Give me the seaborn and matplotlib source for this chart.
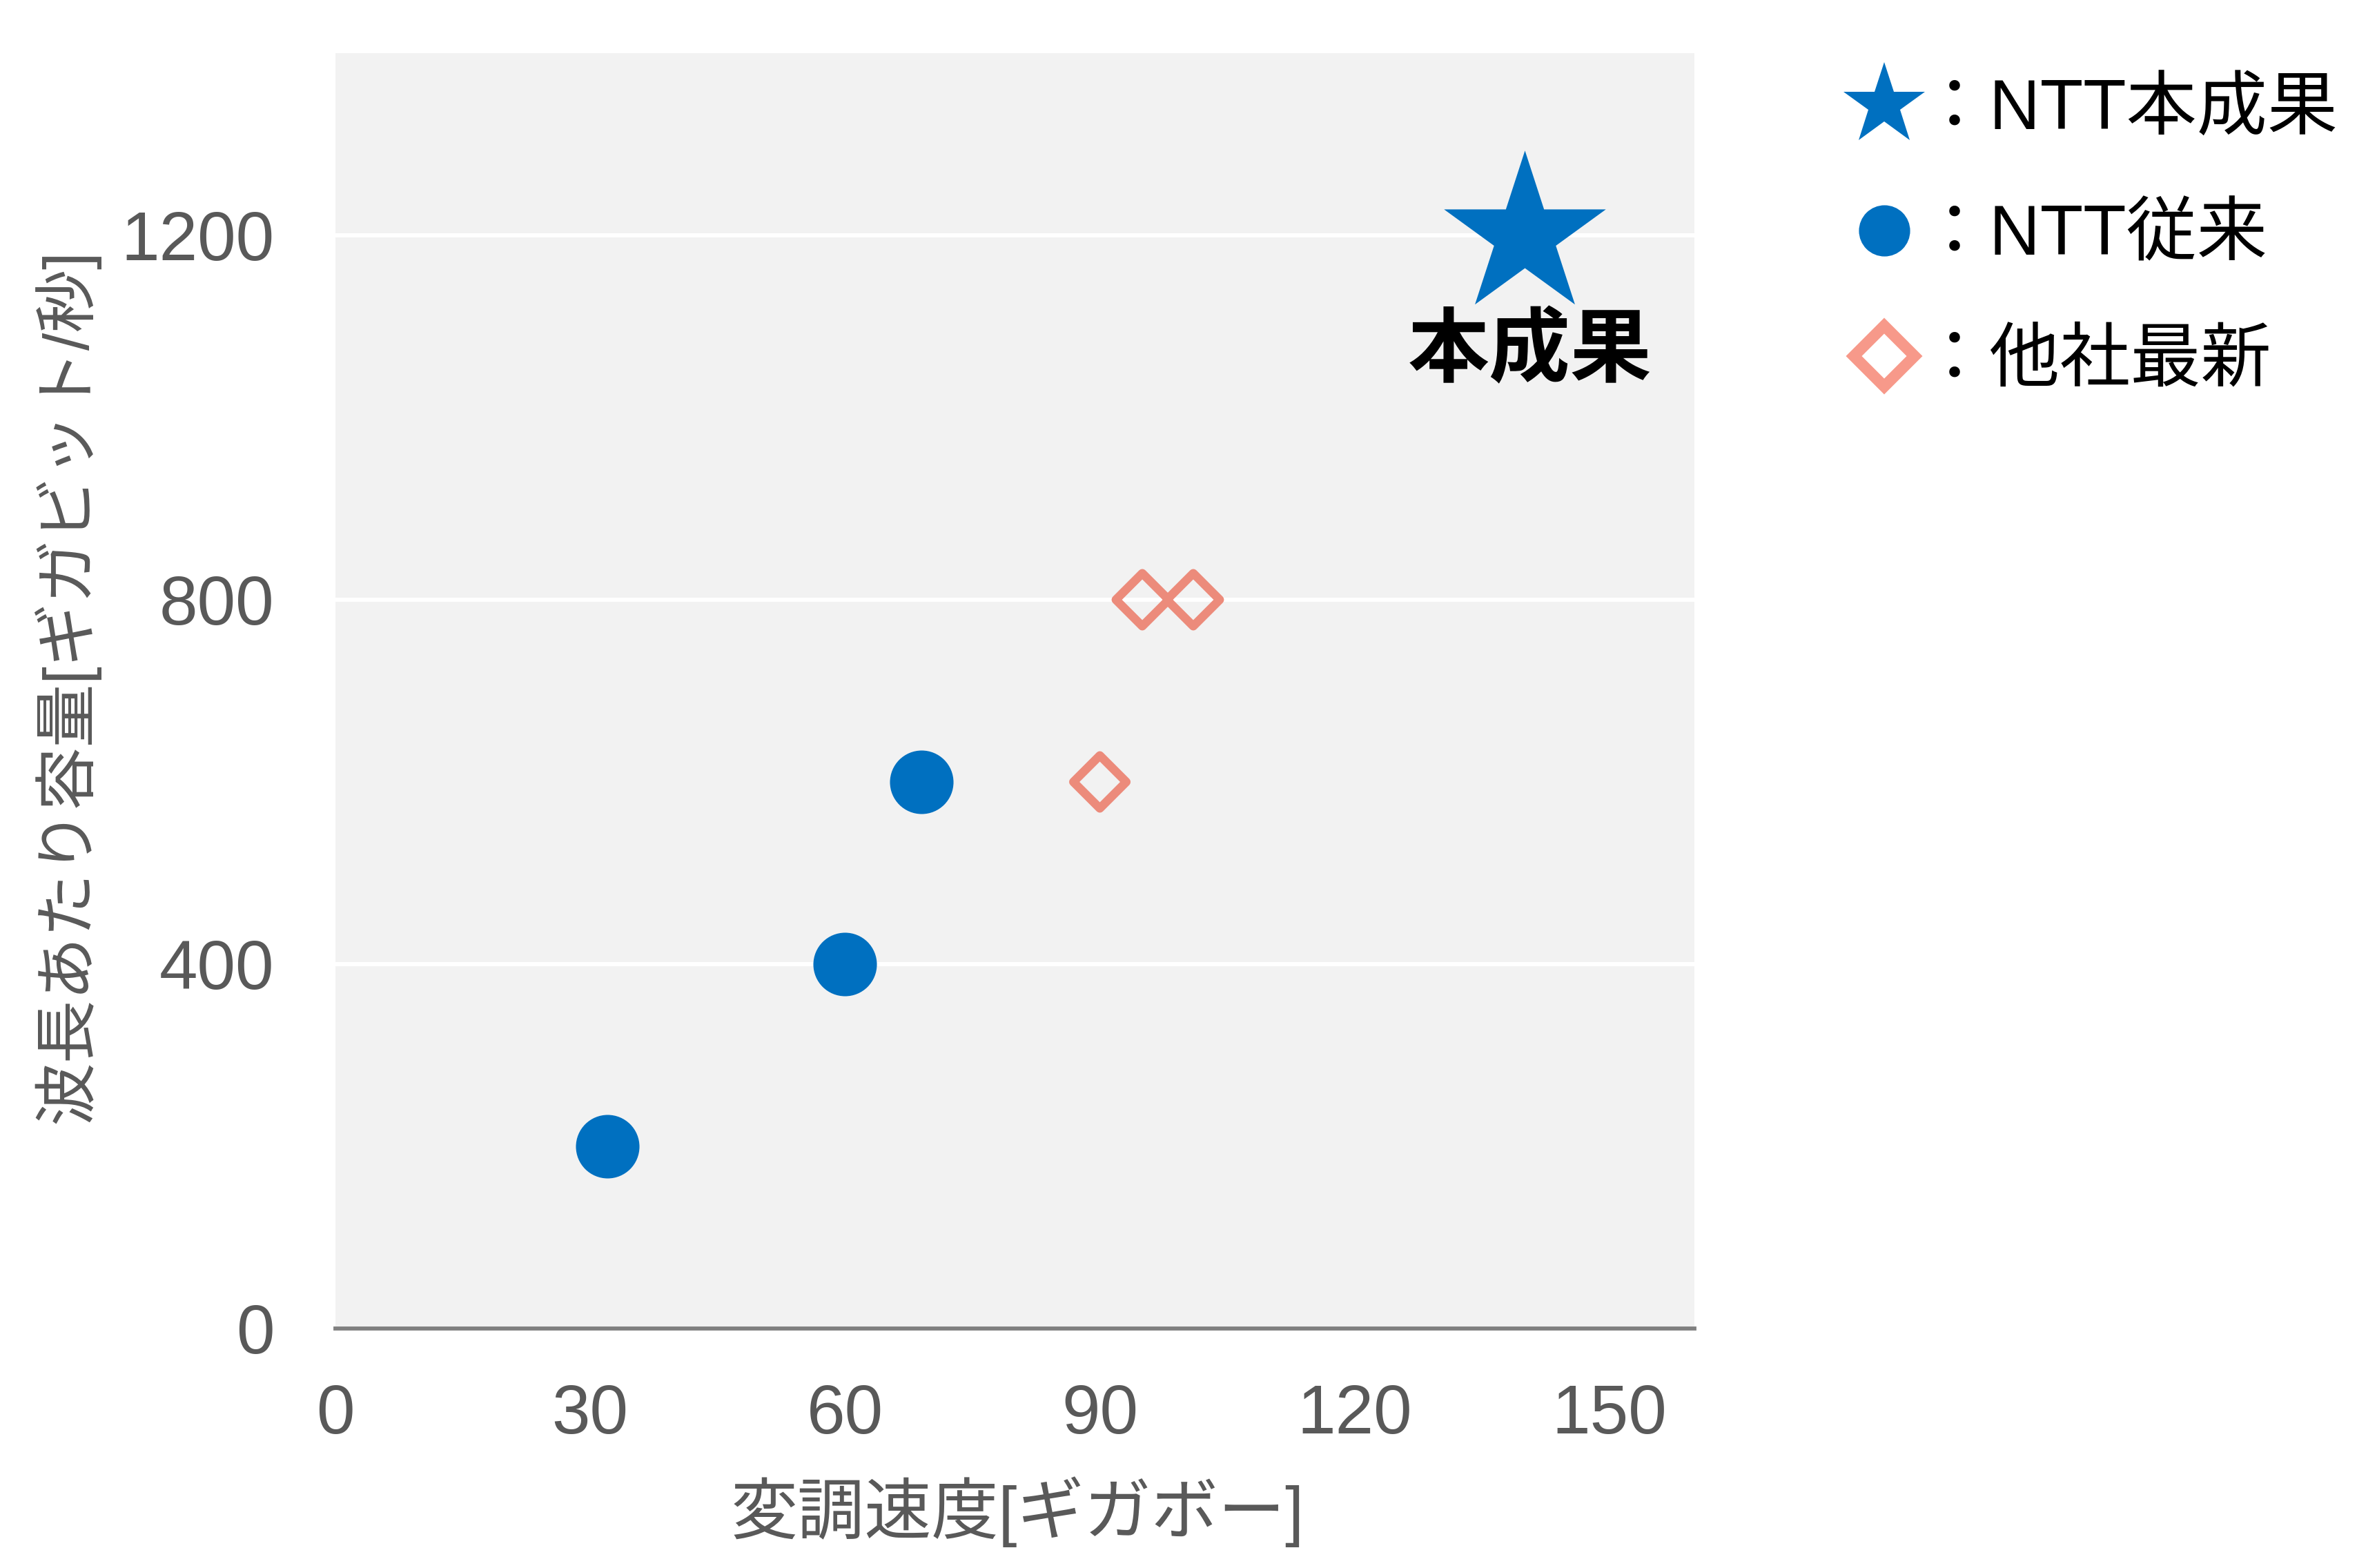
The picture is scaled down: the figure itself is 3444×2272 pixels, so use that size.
import matplotlib
matplotlib.use("Agg")
import matplotlib.pyplot as plt
from matplotlib.lines import Line2D
import seaborn as sns
import pandas as pd

# ---- data ----
ours_x = [140]
ours_y = [1200]
ntt_prev_x = [32, 60, 69]
ntt_prev_y = [200, 400, 600]
others_x = [90, 95, 101]
others_y = [600, 800, 800]

x_ticks = [0, 30, 60, 90, 120, 150]
y_ticks = [0, 400, 800, 1200]
x_label = "変調速度[ギガボー]"
y_label = "波長あたり容量[ギガビット/秒]"
legend_labels = ["：NTT本成果", "：NTT従来", "：他社最新"]
annot_text = "本成果"

BLUE = "#0070C0"
SALMON = "#EC8B7B"
SALMON_LEG = "#F7998A"
TICK_C = "#595959"

sns.set_style("white")
plt.rcParams["font.family"] = ["Liberation Sans", "Noto Sans CJK JP", "DejaVu Sans"]

fig = plt.figure(figsize=(3445 / 300, 2272 / 300), dpi=300)
ax = fig.add_axes([0.14107, 0.15273, 0.57155, 0.81338])
ax.set_facecolor("#F2F2F2")

df_ours = pd.DataFrame({"x": ours_x, "y": ours_y})
df_prev = pd.DataFrame({"x": ntt_prev_x, "y": ntt_prev_y})
df_oth = pd.DataFrame({"x": others_x, "y": others_y})

sns.scatterplot(data=df_prev, x="x", y="y", ax=ax, marker="o", s=488,
                color=BLUE, linewidth=0, zorder=3)
sns.scatterplot(data=df_oth, x="x", y="y", ax=ax, marker="D", s=169,
                facecolor="none", edgecolor=SALMON, linewidth=3.0, zorder=3)
sns.scatterplot(data=df_ours, x="x", y="y", ax=ax, marker="*", s=3500,
                color=BLUE, linewidth=0, zorder=4)

ax.text(ours_x[0] + 0.6, ours_y[0] - 128, annot_text, ha="center", va="center",
        fontsize=28.3, fontweight="bold", color="black",
        family=["Noto Sans CJK JP"], zorder=5)

ax.set_xlim(0, 160)
ax.set_ylim(0, 1400)
ax.set_xticks(x_ticks)
ax.set_yticks(y_ticks)
ax.grid(axis="y", color="white", linewidth=1.45, zorder=0)
ax.grid(axis="x", visible=False)
ax.set_axisbelow(True)

for side in ["top", "right", "left"]:
    ax.spines[side].set_visible(False)
ax.spines["bottom"].set_color("#808080")
ax.spines["bottom"].set_linewidth(1.4)
ax.spines["bottom"].set_zorder(2)

ax.tick_params(axis="x", length=0, pad=19, labelsize=24, labelcolor=TICK_C)
ax.tick_params(axis="y", length=0, pad=21.3, labelsize=24, labelcolor=TICK_C)

ax.set_xlabel(x_label, fontsize=23.3, color=TICK_C)
ax.set_ylabel(y_label, fontsize=22, color=TICK_C)
ax.xaxis.label.set_va("center")
ax.xaxis.set_label_coords(0.5018, -0.144)
ax.yaxis.label.set_va("center")
ax.yaxis.set_label_coords(-0.198, 0.5035)

handles = [
    Line2D([], [], marker="*", linestyle="none", markersize=30,
           markerfacecolor=BLUE, markeredgewidth=0),
    Line2D([], [], marker="o", linestyle="none", markersize=17.8,
           markerfacecolor=BLUE, markeredgewidth=0),
    Line2D([], [], marker="D", linestyle="none", markersize=14.8,
           markerfacecolor="none", markeredgecolor=SALMON_LEG, markeredgewidth=3.9),
]
leg = fig.legend(handles, legend_labels, loc="upper left",
                 bbox_to_anchor=(2679 / 3445, 1 - 114 / 2272),
                 frameon=False, fontsize=24.5, handlelength=1.0,
                 handletextpad=0.0, labelspacing=0.85, borderpad=0,
                 borderaxespad=0)
for t in leg.get_texts():
    t.set_color("black")

fig.savefig("out.png", dpi=300)
